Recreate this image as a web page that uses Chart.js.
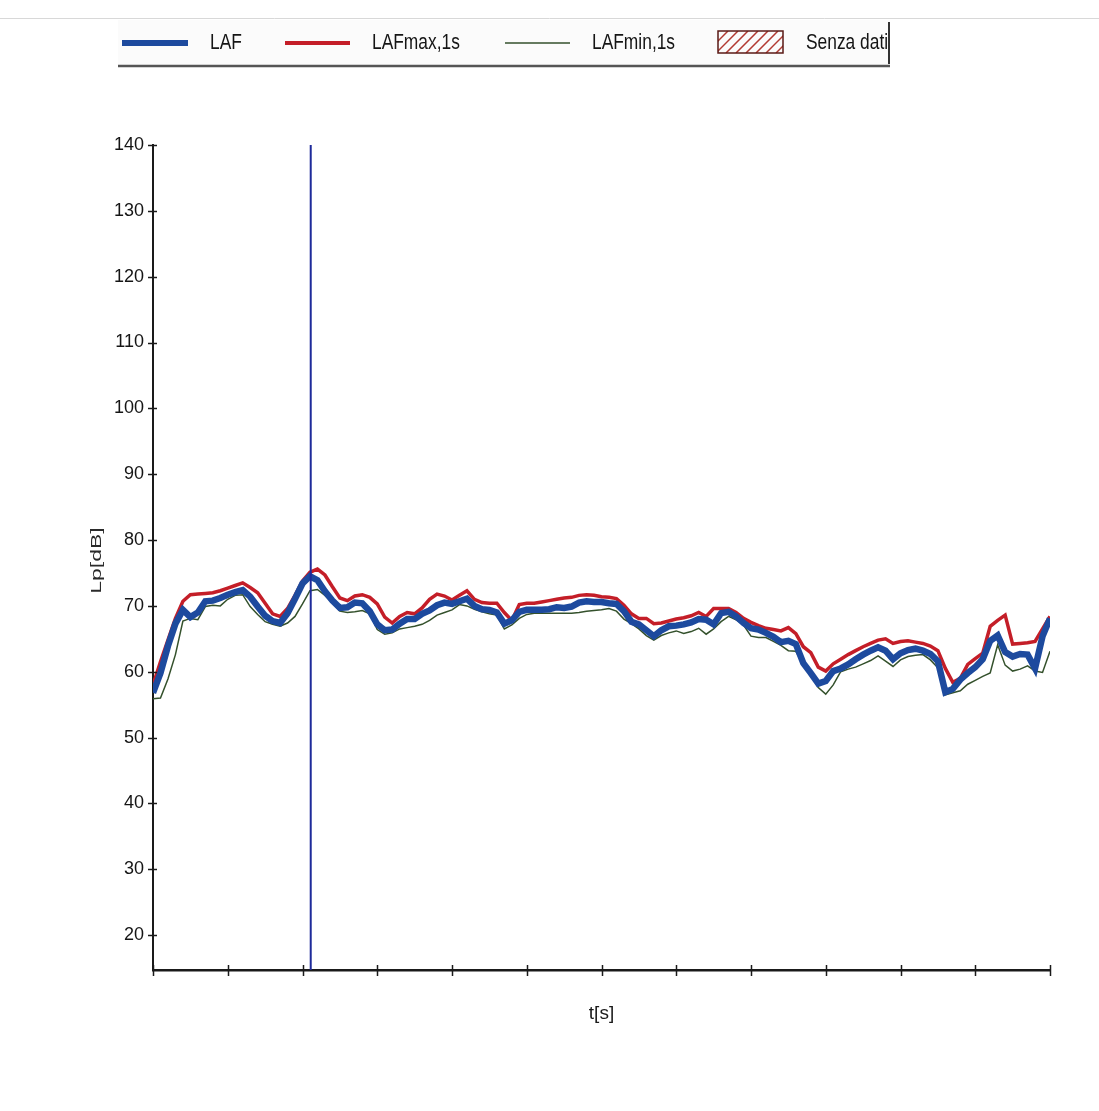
<!DOCTYPE html>
<html><head><meta charset="utf-8">
<script src="https://cdn.jsdelivr.net/npm/chart.js@4.4.0/dist/chart.umd.min.js"></script>
<style>html,body{margin:0;padding:0;background:#fff;}canvas{display:block;}</style>
</head><body>
<canvas id="c" width="1099" height="1111"></canvas>
<script>
// ---- data ----
const times = [0,0.1,0.2,0.3,0.4,0.5,0.6,0.7,0.8,0.9,1,1.1,1.2,1.3,1.4,1.5,1.6,1.7,1.8,1.9,2,2.1,2.2,2.3,2.4,2.5,2.6,2.7,2.8,2.9,3,3.1,3.2,3.3,3.4,3.5,3.6,3.7,3.8,3.9,4,4.1,4.2,4.3,4.4,4.5,4.6,4.7,4.8,4.9,5,5.1,5.2,5.3,5.4,5.5,5.6,5.7,5.8,5.9,6,6.1,6.2,6.3,6.4,6.5,6.6,6.7,6.8,6.9,7,7.1,7.2,7.3,7.4,7.5,7.6,7.7,7.8,7.9,8,8.1,8.2,8.3,8.4,8.5,8.6,8.7,8.8,8.9,9,9.1,9.2,9.3,9.4,9.5,9.6,9.7,9.8,9.9,10,10.1,10.2,10.3,10.4,10.5,10.6,10.7,10.8,10.9,11,11.1,11.2,11.3,11.4,11.5,11.6,11.7,11.8,11.9,12];
const laf = [56.8,59.8,63.9,67.3,69.4,68.3,69.0,70.7,70.8,71.2,71.7,72.1,72.4,71.4,69.9,68.5,67.7,67.4,68.9,71.1,73.4,74.5,73.9,72.2,70.8,69.7,69.8,70.5,70.4,69.2,67.2,66.3,66.4,67.3,68.0,68.0,68.8,69.3,70.1,70.5,70.3,70.7,71.1,70.0,69.5,69.4,69.0,67.3,67.8,69.1,69.4,69.4,69.4,69.5,69.8,69.7,69.9,70.5,70.7,70.6,70.6,70.4,70.3,69.2,67.6,67.2,66.3,65.4,66.3,66.9,67.0,67.2,67.5,68.0,67.9,67.2,68.9,69.1,68.4,67.4,66.6,66.4,65.9,65.3,64.5,64.7,64.2,61.3,59.8,58.2,58.6,60.1,60.5,61.1,61.9,62.6,63.2,63.7,63.2,61.9,62.8,63.3,63.5,63.2,62.7,61.6,56.9,57.4,58.8,59.8,60.7,61.9,64.7,65.5,63.0,62.3,62.7,62.6,60.5,65.4,68.1];
const lafMax = [58.0,61.5,64.8,68.1,70.7,71.7,71.8,71.9,72.0,72.3,72.7,73.1,73.5,72.8,72.0,70.4,68.8,68.4,69.6,71.6,73.8,75.1,75.6,74.7,72.9,71.2,70.8,71.5,71.7,71.3,70.3,68.3,67.4,68.4,69.0,68.8,69.7,71.0,71.8,71.5,70.9,71.6,72.3,71.0,70.5,70.4,70.4,69.0,67.8,70.2,70.4,70.4,70.6,70.8,71.0,71.2,71.3,71.6,71.7,71.6,71.4,71.3,71.1,70.1,68.8,68.1,68.1,67.3,67.4,67.7,68.0,68.2,68.5,69.0,68.4,69.6,69.6,69.6,69.0,68.1,67.5,67.0,66.6,66.4,66.2,66.7,65.8,63.8,62.9,60.7,60.1,61.2,61.9,62.6,63.2,63.8,64.3,64.8,65.0,64.3,64.6,64.7,64.5,64.3,63.9,63.2,60.5,58.4,59.0,61.1,62.0,62.8,66.9,67.8,68.6,64.2,64.3,64.4,64.6,66.5,68.4];
const lafMin = [55.9,56.0,58.9,62.6,67.7,68.1,67.9,69.9,70.1,70.0,71.0,71.6,71.7,69.9,68.7,67.6,67.2,66.9,67.4,68.4,70.3,72.3,72.5,71.6,70.5,69.2,69.0,69.1,69.3,68.8,66.4,65.7,65.9,66.5,66.7,66.9,67.2,67.8,68.6,69.0,69.4,70.2,70.0,69.5,69.1,68.8,68.6,66.5,67.1,68.1,68.7,68.9,68.9,68.9,68.9,68.9,68.9,69.0,69.2,69.3,69.4,69.6,69.2,68.0,67.3,66.5,65.5,64.8,65.5,65.9,66.2,65.8,66.1,66.6,65.7,66.5,67.6,68.4,67.9,67.1,65.4,65.2,65.2,64.6,64.0,63.2,63.1,61.1,59.6,57.6,56.6,58.0,60.0,60.4,60.7,61.2,61.7,62.4,61.6,60.8,61.8,62.3,62.5,62.6,61.8,60.6,56.5,56.8,57.1,58.1,58.7,59.3,59.8,64.1,61.0,60.1,60.4,60.9,60.1,59.9,63.1];
const markerTime = 2.11;
const yTicks = [20,30,40,50,60,70,80,90,100,110,120,130,140];
const xTicks = [0,1,2,3,4,5,6,7,8,9,10,11,12];
const seriesLabels = ['LAF','LAFmax,1s','LAFmin,1s'];
const noDataLabel = 'Senza dati';
const yTitle = 'Lp[dB]';
const xTitle = 't[s]';

const FONT = '"Liberation Sans", Arial, sans-serif';
const colBlue = '#1d4a9e', colRed = '#c41e28', colGreen = '#34512c';

const toPts = arr => times.map((t,i)=>({x:t,y:arr[i]}));

const axisTicksPlugin = {
  id:'axisTicks',
  afterDraw(chart){
    const {ctx, scales:{x,y}, chartArea:a} = chart;
    ctx.save(); ctx.strokeStyle='#1a1a1a'; ctx.lineWidth=1.5;
    yTicks.forEach(v=>{const py=Math.round(y.getPixelForValue(v))+0.5; ctx.beginPath(); ctx.moveTo(a.left-5,py); ctx.lineTo(a.left+4,py); ctx.stroke();});
    xTicks.forEach(v=>{const px=Math.round(x.getPixelForValue(v))+0.5; ctx.beginPath(); ctx.moveTo(px,a.bottom-5); ctx.lineTo(px,a.bottom+6); ctx.stroke();});
    // y-axis title (narrow glyphs, long run)
    ctx.save();
    ctx.translate(97, (a.top+a.bottom)/2 + 3);
    ctx.rotate(-Math.PI/2);
    ctx.scale(1, 0.62);
    ctx.font = '23px '+FONT; ctx.fillStyle='#2a2a2a'; ctx.textAlign='center'; ctx.textBaseline='middle';
    ctx.fillText(yTitle, 0, 0);
    ctx.restore();
    ctx.restore();
  }
};

const legendPlugin = {
  id:'topLegend',
  afterDraw(chart){
    const ctx = chart.ctx;
    ctx.save();
    ctx.fillStyle='#fbfbfb'; ctx.fillRect(118,20,772,46);
    ctx.strokeStyle='#d8d8d8'; ctx.lineWidth=1;
    ctx.beginPath(); ctx.moveTo(0,18.5); ctx.lineTo(1099,18.5); ctx.stroke();
    ctx.strokeStyle='#555'; ctx.lineWidth=2.5;
    ctx.beginPath(); ctx.moveTo(118,66); ctx.lineTo(890,66); ctx.stroke();
    ctx.lineWidth=2; ctx.strokeStyle='#333';
    ctx.beginPath(); ctx.moveTo(889,22); ctx.lineTo(889,64); ctx.stroke();
    const cy = 43;
    const items = [
      {x0:122,x1:188,tx:210,color:colBlue,w:6,label:seriesLabels[0]},
      {x0:285,x1:350,tx:372,color:colRed,w:4,label:seriesLabels[1]},
      {x0:505,x1:570,tx:592,color:colGreen,w:1.5,label:seriesLabels[2]}
    ];
    const drawText = (txt, x) => {
      ctx.save(); ctx.translate(x, cy); ctx.scale(0.79, 1);
      ctx.font = '22px '+FONT; ctx.fillStyle='#151515'; ctx.textBaseline='middle'; ctx.textAlign='left';
      ctx.fillText(txt, 0, 0); ctx.restore();
    };
    items.forEach(it=>{
      ctx.strokeStyle=it.color; ctx.lineWidth=it.w;
      ctx.beginPath(); ctx.moveTo(it.x0,cy); ctx.lineTo(it.x1,cy); ctx.stroke();
      drawText(it.label, it.tx);
    });
    const bx=718, by=31, bw=65, bh=22;
    ctx.save();
    ctx.beginPath(); ctx.rect(bx,by,bw,bh); ctx.clip();
    ctx.strokeStyle='#b23a32'; ctx.lineWidth=1.5;
    for(let k=-bh; k<bw+bh; k+=10){ ctx.beginPath(); ctx.moveTo(bx+k,by+bh); ctx.lineTo(bx+k+bh,by); ctx.stroke(); }
    ctx.restore();
    ctx.strokeStyle='#5a1a16'; ctx.lineWidth=1.5; ctx.strokeRect(bx,by,bw,bh);
    drawText(noDataLabel, 806);
    ctx.restore();
  }
};

new Chart(document.getElementById('c'), {
  type:'line',
  data:{
    datasets:[
      {label:'marker', data:[{x:markerTime,y:140},{x:markerTime,y:14.7}], borderColor:'#1e2a9a', borderWidth:2, pointRadius:0, order:0},
      {label:seriesLabels[0], data:toPts(laf), borderColor:colBlue, borderWidth:6.5, pointRadius:0, tension:0, order:1},
      {label:seriesLabels[1], data:toPts(lafMax), borderColor:colRed, borderWidth:3.5, pointRadius:0, tension:0, order:2},
      {label:seriesLabels[2], data:toPts(lafMin), borderColor:colGreen, borderWidth:1.5, pointRadius:0, tension:0, order:3}
    ]
  },
  options:{
    responsive:false, animation:false, devicePixelRatio:1,
    layout:{padding:{top:145,right:49,left:0,bottom:0}},
    plugins:{legend:{display:false}, tooltip:{enabled:false}},
    scales:{
      x:{type:'linear', min:0, max:12,
         afterFit:s=>{s.height=141;},
         afterBuildTicks:s=>{s.ticks=xTicks.map(v=>({value:v}));},
         ticks:{display:false},
         grid:{display:false},
         border:{display:true,color:'#1a1a1a',width:2.5},
         title:{display:true,text:xTitle,color:'#1a1a1a',font:{family:FONT,size:19},padding:{top:0,bottom:86}}
      },
      y:{type:'linear', min:14.7, max:140,
         afterFit:s=>{s.width=153;},
         afterBuildTicks:s=>{s.ticks=yTicks.map(v=>({value:v}));},
         ticks:{color:'#151515',font:{family:FONT,size:18},padding:1},
         grid:{display:false},
         border:{display:true,color:'#1a1a1a',width:2},
         title:{display:false,text:yTitle}
      }
    }
  },
  plugins:[axisTicksPlugin, legendPlugin]
});
</script>
</body></html>
